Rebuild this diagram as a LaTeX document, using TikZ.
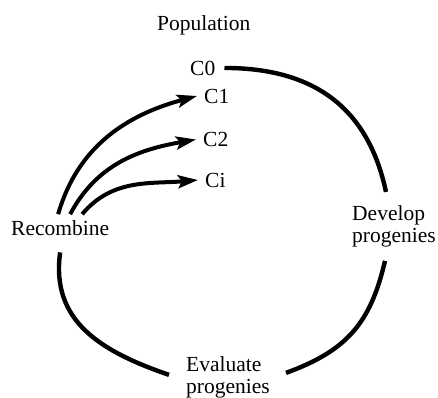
\documentclass[tikz,border=0pt]{standalone}
\usepackage{fontspec}
\setmainfont{Liberation Serif}
\usetikzlibrary{arrows.meta}

\begin{document}
\begin{tikzpicture}[x=1pt,y=1pt,
    lbl/.style={inner sep=0pt, anchor=base west, font=\fontsize{21.5}{22}\selectfont},
    ring/.style={line width=4.4pt},
    spawn/.style={line width=4pt, -{Stealth[length=20pt,width=13pt,inset=4pt]}}]
    \useasboundingbox (0,0) rectangle (438,-397);

    % Rotulos
    \node[lbl] (pop) at (157,-30.5) {Population};
    \node[lbl] (c0) at (190,-75) {C0};
    \node[lbl] (c1) at (204,-103) {C1};
    \node[lbl] (c2) at (203,-146.5) {C2};
    \node[lbl] (ci) at (205,-187) {Ci};
    \node[lbl] (rec) at (11,-235) {Recombine};
    \node[lbl, align=left] (dev) at (352,-242) {Develop\\progenies};
    \node[lbl, align=left] (eva) at (186,-393) {Evaluate\\progenies};

    % Ciclo
    \draw[ring] ([xshift=9pt]c0.east) to[out=0,in=102,looseness=1.1] ([shift={(-8pt,13pt)}]dev.north);
    \draw[ring] ([shift={(-9pt,-14pt)}]dev.south) to[out=-103,in=20,looseness=1.1] ([shift={(16pt,4pt)}]eva.east);
    \draw[ring] ([shift={(-17pt,2pt)}]eva.west) to[out=161,in=-98,looseness=1.1] ([yshift=-17pt]rec.south);

    % Recombinar
    \draw[spawn] ([shift={(-2pt,5.7pt)}]rec.north) to[out=74,in=195] ([xshift=-7pt]c1.west);
    \draw[spawn] ([shift={(10pt,5.7pt)}]rec.north) to[out=62,in=190] ([xshift=-7pt]c2.west);
    \draw[spawn] ([shift={(22pt,5.7pt)}]rec.north) to[out=50,in=185] ([xshift=-7pt]ci.west);
\end{tikzpicture}
\end{document}
